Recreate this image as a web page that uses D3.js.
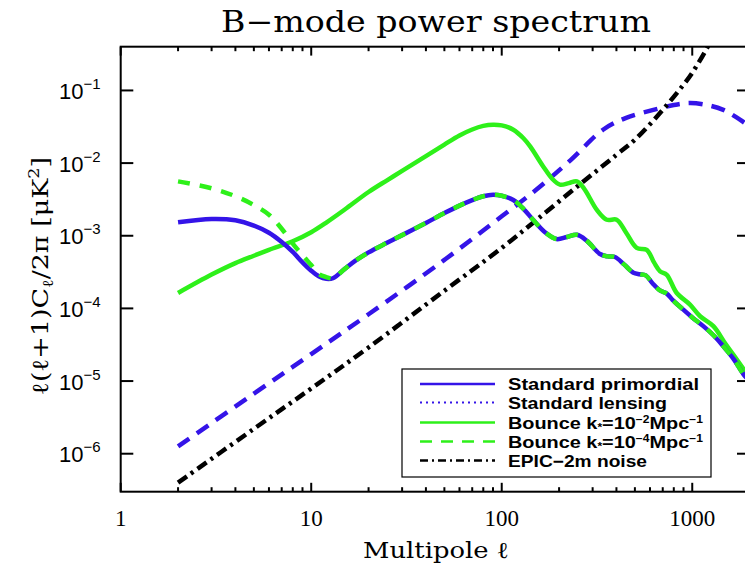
<!DOCTYPE html>
<html><head><meta charset="utf-8">
<script src="https://cdn.jsdelivr.net/npm/d3@7"></script>
<style>body{margin:0;background:#fff}svg{display:block}</style>
</head><body>
<svg id="chart" width="745" height="569"></svg>
<script>
// ---- data ----
const primEll = [2,3,4,5,6,7,8,9,10,11,12,13,15,17,20,25,30,40,50,60,70,80,90,100,115,130,146,170,194,220,248,280,328,360,393,440,491,530,570,620,680,735,790,898,1000,1143,1300,1456,1650,1854,2000];
const primVal = [1.53e-3,1.70e-3,1.63e-3,1.38e-3,1.10e-3,8.2e-4,6.0e-4,4.3e-4,3.3e-4,2.75e-4,2.55e-4,2.6e-4,3.5e-4,4.5e-4,5.9e-4,8.0e-4,1.02e-3,1.5e-3,2.05e-3,2.6e-3,3.1e-3,3.5e-3,3.67e-3,3.55e-3,3.1e-3,2.35e-3,1.66e-3,1.1e-3,9.0e-4,9.6e-4,1.03e-3,8.5e-4,5.6e-4,5.2e-4,5.1e-4,4.0e-4,3.1e-4,2.95e-4,2.85e-4,2.2e-4,1.75e-4,1.6e-4,1.3e-4,9.6e-5,7.5e-5,5.7e-5,4.2e-5,3.0e-5,2.0e-5,1.25e-5,1.0e-5];

const lensEll = [2,5,10,20,50,100,150,230,340,450,625,800,973,1200,1456,1700,2000];
const lensVal = [1.26e-6,6.7e-6,2.35e-5,8.3e-5,4.65e-4,1.85e-3,4.2e-3,1.1e-2,2.88e-2,4.2e-2,5.4e-2,6.3e-2,6.7e-2,6.3e-2,5.4e-2,4.3e-2,3.2e-2];

const bounce2Ell = [2,3,4,5,6,8,10,12,15,20,25,30,40,50,60,70,80,90,100,115,130,141,165,185,202,225,248,270,315,356,401,450,511,577,630,678,735,829,973,1100,1291,1500,1714,2000];
const bounce2Val = [1.63e-4,2.92e-4,4.2e-4,5.3e-4,6.4e-4,8.4e-4,1.12e-3,1.52e-3,2.3e-3,4.0e-3,5.8e-3,7.8e-3,1.25e-2,1.8e-2,2.4e-2,2.9e-2,3.25e-2,3.38e-2,3.3e-2,2.88e-2,2.2e-2,1.7e-2,9.0e-3,6.0e-3,5.05e-3,5.3e-3,5.6e-3,4.5e-3,2.29e-3,1.66e-3,1.66e-3,1.1e-3,6.8e-4,6.4e-4,4.3e-4,3.24e-4,2.9e-4,1.63e-4,1.13e-4,7.8e-5,5.7e-5,3.2e-5,1.98e-5,1.1e-5];

// low-ell part of the k*=1e-4 bounce; above ell=13 it follows the standard primordial curve
const bounce4LowEll = [2,3,4,5,6,7,8,9,10,11,12];
const bounce4LowVal = [5.6e-3,4.5e-3,3.5e-3,2.65e-3,1.95e-3,1.25e-3,7.8e-4,5.4e-4,3.95e-4,2.95e-4,2.7e-4];

const noiseEll = [2,5,10,20,50,100,150,250,400,500,700,900,1000,1200,1300];
const noiseVal = [4.0e-7,2.2e-6,7.9e-6,2.9e-5,1.75e-4,6.8e-4,1.6e-3,4.8e-3,1.3e-2,2.1e-2,5.4e-2,0.12,0.175,0.39,0.6];

const xTickVals = [1,10,100,1000];
const xTickLabels = ["1","10","100","1000"];
const yTickVals = [1e-1,1e-2,1e-3,1e-4,1e-5,1e-6];
const yTickExps = ["\u22121","\u22122","\u22123","\u22124","\u22125","\u22126"];

// ---- layout ----
const L = 120.7, R = 749.6, T = 46.7, B = 491.7;
const svg = d3.select("#chart");
const x = d3.scaleLog().domain([1, 2000]).range([L, R]);
const y = d3.scaleLog().domain([3e-7, 0.4]).range([B, T]);

const BLUE = "#3414e8", GREEN = "#2ef01a", BLACK = "#000";

svg.append("clipPath").attr("id","clip").append("rect")
  .attr("x",L).attr("y",T).attr("width",R-L).attr("height",B-T);

const line = d3.line().x(d=>x(d[0])).y(d=>y(d[1])).curve(d3.curveCatmullRom.alpha(0.5));
const zip = (a,b)=>a.map((v,i)=>[v,b[i]]);

const g = svg.append("g").attr("clip-path","url(#clip)");
function draw(data, color, dash, w){
  g.append("path").attr("d", line(data)).attr("fill","none")
   .attr("stroke", color).attr("stroke-width", w||4.5)
   .attr("stroke-dasharray", dash||null).attr("stroke-linejoin","round");
}
const prim = zip(primEll, primVal);
const b4 = zip(bounce4LowEll, bounce4LowVal).concat(prim.filter(d=>d[0]>=13));
draw(zip(lensEll, lensVal), BLUE, "14,9");
draw(zip(noiseEll, noiseVal), BLACK, "11,5,3,5");
draw(zip(bounce2Ell, bounce2Val), GREEN);
draw(prim, BLUE);
draw(b4, GREEN, "12,10");

// ---- frame & ticks ----
const ax = svg.append("g").attr("stroke","#000").attr("stroke-width",2);
ax.append("rect").attr("x",L).attr("y",T).attr("width",R-L).attr("height",B-T).attr("fill","none");
const minorX = [];
[1,10,100,1000].forEach(d=>{for(let k=2;k<=9;k++){ if(d*k<=2000) minorX.push(d*k);}});
xTickVals.forEach(v=>{
  ax.append("line").attr("x1",x(v)).attr("x2",x(v)).attr("y1",B).attr("y2",B-8.9);
  ax.append("line").attr("x1",x(v)).attr("x2",x(v)).attr("y1",T).attr("y2",T+8.9);
});
minorX.forEach(v=>{
  ax.append("line").attr("x1",x(v)).attr("x2",x(v)).attr("y1",B).attr("y2",B-4.5);
  ax.append("line").attr("x1",x(v)).attr("x2",x(v)).attr("y1",T).attr("y2",T+4.5);
});
yTickVals.forEach(v=>{
  ax.append("line").attr("x1",L).attr("x2",L+12.6).attr("y1",y(v)).attr("y2",y(v));
  ax.append("line").attr("x1",R).attr("x2",R-12.6).attr("y1",y(v)).attr("y2",y(v));
});

// ---- tick labels ----
xTickVals.forEach((v,i)=>{
  svg.append("text").attr("x",x(v)).attr("y",526).attr("text-anchor","middle")
    .attr("font-family","Liberation Serif").attr("font-size",23).text(xTickLabels[i]);
});
yTickVals.forEach((v,i)=>{
  const t = svg.append("text").attr("x",59).attr("y",y(v)+8.5)
    .attr("font-family","Liberation Sans").attr("font-size",22);
  t.append("tspan").text("10");
  t.append("tspan").attr("dy",-10).attr("font-size",15).text(yTickExps[i]);
});

// ---- titles ----
svg.append("text").attr("x",436).attr("y",32).attr("text-anchor","middle")
  .attr("font-family","DejaVu Serif").attr("font-size",29)
  .attr("textLength",430).attr("lengthAdjust","spacingAndGlyphs").text("B\u2212mode power spectrum");
svg.append("text").attr("x",436).attr("y",558).attr("text-anchor","middle")
  .attr("font-family","DejaVu Serif").attr("font-size",23)
  .attr("textLength",146).attr("lengthAdjust","spacingAndGlyphs").text("Multipole \u2113");
const yl = svg.append("text").attr("transform","translate(48,276) rotate(-90)")
  .attr("text-anchor","middle").attr("font-family","DejaVu Serif").attr("font-size",23)
  .attr("textLength",238).attr("lengthAdjust","spacingAndGlyphs");
yl.append("tspan").text("\u2113(\u2113+1)C");
yl.append("tspan").attr("font-size",15).attr("dy",5).text("\u2113");
yl.append("tspan").attr("dy",-5).text("/2\u03c0 [\u03bcK");
yl.append("tspan").attr("font-size",15).attr("dy",-9).text("2");
yl.append("tspan").attr("dy",9).text("]");

// ---- legend ----
const leg = svg.append("g");
leg.append("rect").attr("x",402).attr("y",369).attr("width",309).attr("height",108)
  .attr("fill","#fff").attr("stroke","#000").attr("stroke-width",1.2);
const legNames = ["Standard primordial","Standard lensing","Bounce k","Bounce k","EPIC\u22122m noise"];
const legColors = [BLUE, BLUE, GREEN, GREEN, BLACK];
const legDash = [null, "2,4", null, "12,9", "8,4,2,4"];
const legW = [191,159,195,195,139];
const rowY = [384,402.5,422.5,441.5,460.5];
legNames.forEach((n,i)=>{
  leg.append("line").attr("x1",420).attr("x2",495).attr("y1",rowY[i]).attr("y2",rowY[i])
    .attr("stroke",legColors[i]).attr("stroke-width",i===1?2.2:2.6).attr("stroke-dasharray",legDash[i]);
  const t = leg.append("text").attr("x",508).attr("y",rowY[i]+6)
    .attr("font-family","Liberation Sans").attr("font-weight","bold").attr("font-size",16.5)
    .attr("textLength",legW[i]).attr("lengthAdjust","spacingAndGlyphs");
  t.append("tspan").text(n);
  if(i===2||i===3){
    t.append("tspan").attr("font-size",10).attr("dy",2).text("*");
    t.append("tspan").attr("dy",-2).text("=10");
    t.append("tspan").attr("font-size",10).attr("dy",-6).text(i===2?"\u22122":"\u22124");
    t.append("tspan").attr("dy",6).text("Mpc");
    t.append("tspan").attr("font-size",10).attr("dy",-6).text("\u22121");
  }
});
</script>
</body></html>
